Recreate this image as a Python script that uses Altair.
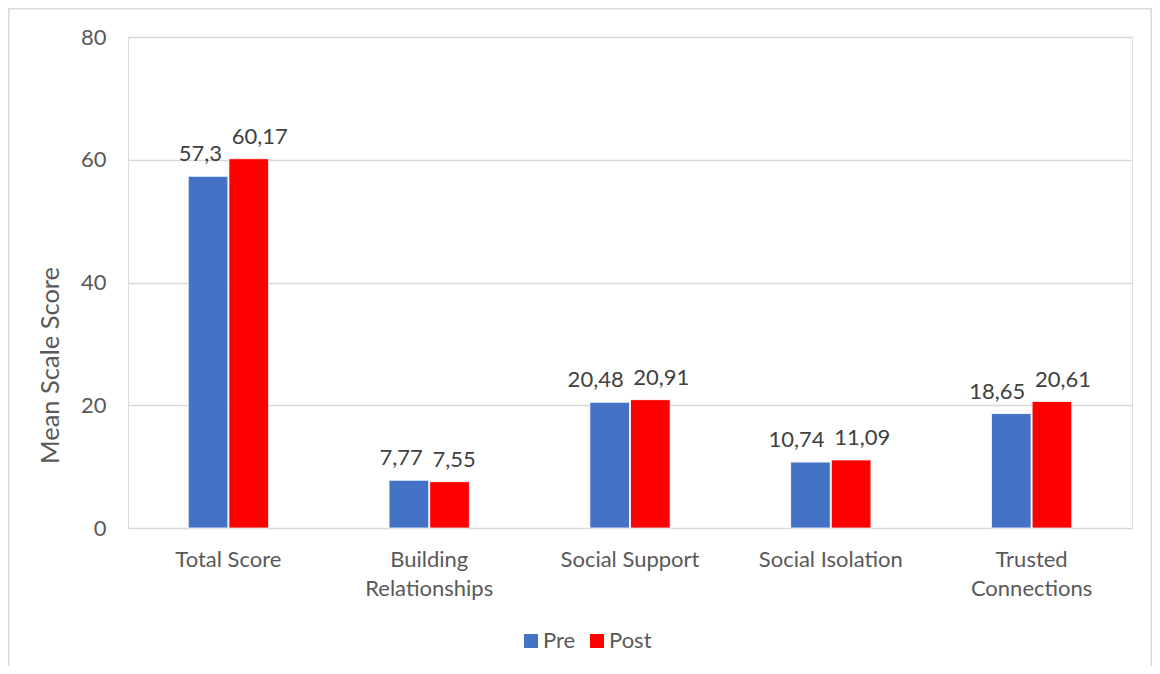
import altair as alt
import pandas as pd

categories = ["Total Score", "Building Relationships", "Social Support", "Social Isolation", "Trusted Connections"]
series = ["Pre", "Post"]
pre_values = [57.3, 7.77, 20.48, 10.74, 18.65]
post_values = [60.17, 7.55, 20.91, 11.09, 20.61]
y_ticks = [0, 20, 40, 60, 80]
colors = ["#4472C4", "#FF0000"]

rows = []
for c, a, b in zip(categories, pre_values, post_values):
    rows.append({"category": c, "series": "Pre", "value": a})
    rows.append({"category": c, "series": "Post", "value": b})
df = pd.DataFrame(rows)

FONT = "Lato"
TXT = "#595959"

x_enc = alt.X("category:N", sort=categories, title=None,
              scale=alt.Scale(paddingInner=0.6, paddingOuter=0.3),
              axis=alt.Axis(labelAngle=0, labelFontSize=22, labelColor=TXT, labelFont=FONT,
                            ticks=False, domain=False, labelPadding=21, labelLineHeight=29,
                            labelExpr="indexof(['Building Relationships','Trusted Connections'], datum.label) >= 0 ? split(datum.label, ' ') : datum.label"))
xo_enc = alt.XOffset("series:N", sort=series, scale=alt.Scale(paddingInner=0.025))
y_enc = alt.Y("value:Q", scale=alt.Scale(domain=[0, 80], nice=False),
              axis=alt.Axis(values=y_ticks, title="Mean Scale Score", titleFontSize=25.5,
                            titleFont=FONT, titleColor=TXT, titleFontWeight="normal",
                            titleX=-78, titleY=328, titleAngle=270, titleAlign="center",
                            titleBaseline="middle",
                            labelFontSize=22, labelColor=TXT, labelFont=FONT, labelPadding=22,
                            ticks=False, domain=False, grid=True, gridColor="#d9d9d9", gridWidth=1.5))

base = alt.Chart(df).encode(x=x_enc, xOffset=xo_enc, y=y_enc)

bars = base.mark_bar(stroke="white", strokeWidth=0.8).encode(
    color=alt.Color("series:N", sort=series,
                    scale=alt.Scale(domain=series, range=colors),
                    legend=alt.Legend(title=None, orient="none", legendX=392, legendY=593,
                                      direction="horizontal", symbolType="square", symbolSize=196,
                                      symbolStrokeWidth=0, labelFontSize=22, labelColor=TXT,
                                      labelFont=FONT, labelOffset=1, columnPadding=10, padding=0))
)

lbl_pre = base.transform_filter("datum.series == 'Pre'").transform_calculate(
    lbl="replace(toString(datum.value), '.', ',')"
).mark_text(baseline="alphabetic", align="right", dy=-15, dx=14, fontSize=22, font=FONT,
            color="#404040").encode(text="lbl:N")

lbl_post = base.transform_filter("datum.series == 'Post'").transform_calculate(
    lbl="replace(toString(datum.value), '.', ',')"
).mark_text(baseline="alphabetic", align="left", dy=-15, dx=-17, fontSize=22, font=FONT,
            color="#404040").encode(text="lbl:N")

border = alt.Chart(pd.DataFrame({"a": [0]})).mark_rect(
    fillOpacity=0, stroke="#d9d9d9", strokeWidth=1.5
).encode(x=alt.value(-119.2), x2=alt.value(1023.2), y=alt.value(-28.2), y2=alt.value(700))

chart = alt.layer(border, bars, lbl_pre, lbl_post).properties(
    width=1004, height=491,
    autosize=alt.AutoSizeParams(type="none"),
    padding={"left": 120, "top": 29, "right": 20, "bottom": 138},
).configure_view(strokeWidth=0).configure(background="white")

chart.save("out.html", embed_options={"renderer": "svg", "actions": False})
